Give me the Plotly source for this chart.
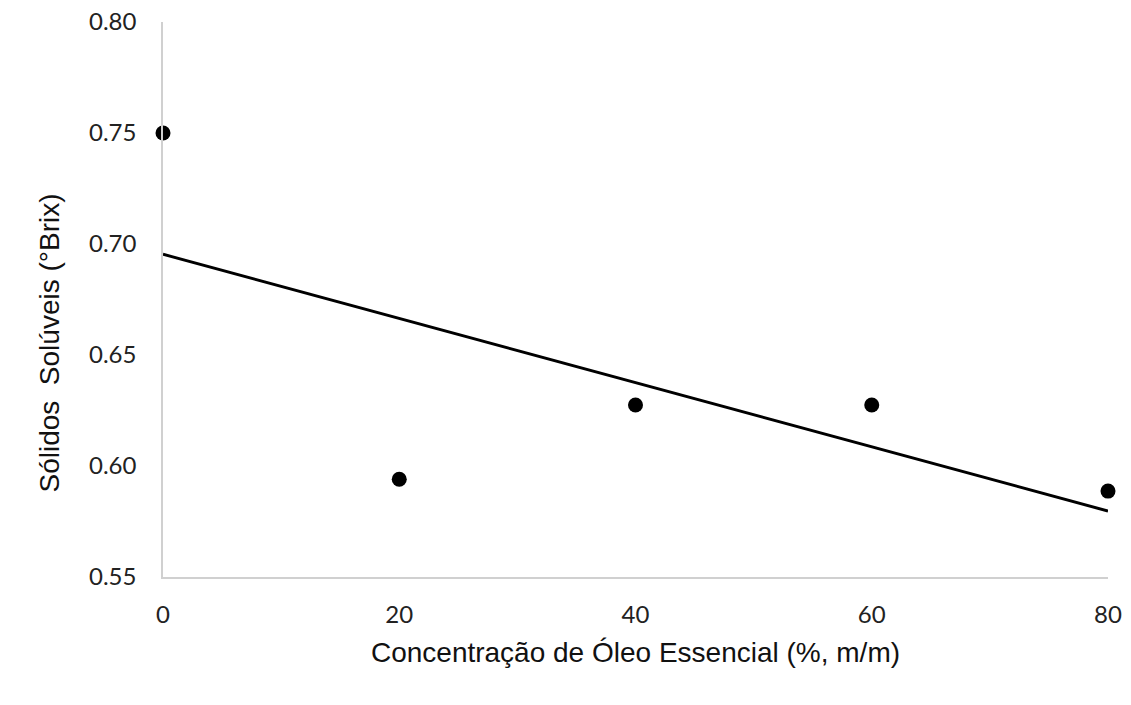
import numpy as np
import plotly.graph_objects as go

# Concentração de óleo essencial (%, m/m) e sólidos solúveis (°Brix)
concentracao = [0, 20, 40, 60, 80]
solidos = [0.750, 0.594, 0.6275, 0.6275, 0.5887]

x_ticks = [0, 20, 40, 60, 80]
y_ticks = [0.55, 0.60, 0.65, 0.70, 0.75, 0.80]
y_labels = ["0.55", "0.60", "0.65", "0.70", "0.75", "0.80"]

# Linha de tendência linear (mínimos quadrados)
slope, intercept = np.polyfit(concentracao, solidos, 1)
trend_x = [concentracao[0], concentracao[-1]]
trend_y = [intercept + slope * v for v in trend_x]

fig = go.Figure()
fig.add_trace(go.Scatter(
    x=trend_x, y=trend_y, mode="lines",
    line=dict(color="black", width=3),
    hoverinfo="skip", cliponaxis=False,
))
fig.add_trace(go.Scatter(
    x=concentracao, y=solidos, mode="markers",
    marker=dict(color="black", size=15),
    cliponaxis=False,
))

fig.update_layout(
    width=1131, height=705,
    margin=dict(l=163, r=23, t=22, b=128),
    paper_bgcolor="white", plot_bgcolor="white",
    showlegend=False,
    xaxis=dict(
        range=[0, 80], tickvals=x_ticks, showgrid=False, zeroline=False,
        showline=True, linecolor="#d0d0d0", linewidth=1.5,
        ticks="", ticklabelstandoff=15, automargin=False,
        tickfont=dict(family="Lato", size=24, color="#222"),
        title=dict(text="Concentração de Óleo Essencial (%, m/m)",
                   font=dict(family="Liberation Sans", size=28, color="#111"),
                   standoff=16),
    ),
    yaxis=dict(
        range=[0.55, 0.80], tickvals=y_ticks, ticktext=y_labels,
        showgrid=False, zeroline=False,
        showline=True, linecolor="#d0d0d0", linewidth=1.5,
        ticks="", ticklabelstandoff=20, automargin=False,
        tickfont=dict(family="Lato", size=24, color="#222"),
    ),
    annotations=[dict(
        text="Sólidos  Solúveis (°Brix)", textangle=-90,
        xref="paper", yref="paper", x=-0.1206, y=0.4207,
        xanchor="center", yanchor="middle", showarrow=False,
        font=dict(family="Liberation Sans", size=28, color="#111"),
    )],
)

fig.write_html("out.html")
